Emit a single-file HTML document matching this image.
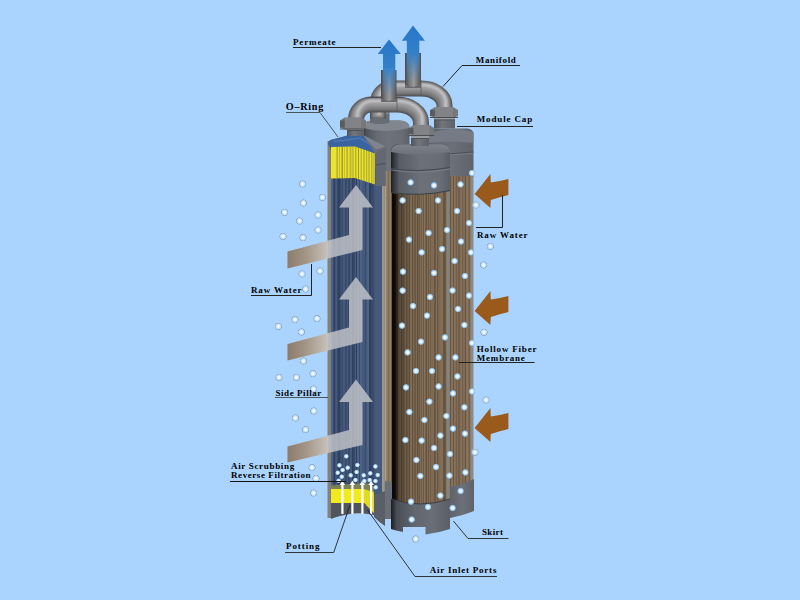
<!DOCTYPE html>
<html><head><meta charset="utf-8"><style>
html,body{margin:0;padding:0;background:#aad4fe;overflow:hidden;}
svg{display:block;}
</style></head><body><svg width="800" height="600" viewBox="0 0 800 600">
<defs>
 <linearGradient id="capg" x1="0" x2="1" y1="0" y2="0">
  <stop offset="0" stop-color="#2e3238"/><stop offset="0.08" stop-color="#4e525a"/>
  <stop offset="0.3" stop-color="#666a73"/><stop offset="0.55" stop-color="#6e727b"/>
  <stop offset="0.85" stop-color="#686c75"/><stop offset="1" stop-color="#5a5e66"/>
 </linearGradient>
 <linearGradient id="capD" x1="0" x2="1" y1="0" y2="0">
  <stop offset="0" stop-color="#1c1e22"/><stop offset="0.05" stop-color="#33363c"/>
  <stop offset="0.14" stop-color="#585c64"/><stop offset="0.5" stop-color="#6c7079"/>
  <stop offset="0.85" stop-color="#686c75"/><stop offset="1" stop-color="#5a5e66"/>
 </linearGradient>
 <linearGradient id="neckg" x1="0" x2="1" y1="0" y2="0">
  <stop offset="0" stop-color="#50545a"/><stop offset="0.4" stop-color="#72767c"/><stop offset="1" stop-color="#5e6268"/>
 </linearGradient>
 <linearGradient id="capgC" x1="0" x2="1" y1="0" y2="0">
  <stop offset="0" stop-color="#5e626b"/><stop offset="0.5" stop-color="#6c7079"/>
  <stop offset="1" stop-color="#5e626a"/>
 </linearGradient>
 <linearGradient id="captop" x1="0" x2="0" y1="0" y2="1">
  <stop offset="0" stop-color="#7e828c"/><stop offset="1" stop-color="#6c7079"/>
 </linearGradient>
 <linearGradient id="shadeD" x1="0" x2="1" y1="0" y2="0">
  <stop offset="0" stop-color="#000" stop-opacity="0.95"/><stop offset="0.06" stop-color="#000" stop-opacity="0.85"/>
  <stop offset="0.13" stop-color="#000" stop-opacity="0.35"/><stop offset="0.28" stop-color="#000" stop-opacity="0.06"/>
  <stop offset="0.6" stop-color="#000" stop-opacity="0"/><stop offset="1" stop-color="#000" stop-opacity="0.08"/>
 </linearGradient>
 <linearGradient id="skirtg" x1="0" x2="1" y1="0" y2="0">
  <stop offset="0" stop-color="#1a1c20"/><stop offset="0.1" stop-color="#4a4e56"/>
  <stop offset="0.4" stop-color="#62666f"/><stop offset="0.7" stop-color="#6a6e77"/><stop offset="1" stop-color="#5a5e66"/>
 </linearGradient>
 <linearGradient id="pipeV" x1="0" x2="1" y1="0" y2="0">
  <stop offset="0" stop-color="#4a4a4c"/><stop offset="0.3" stop-color="#7c7c7e"/>
  <stop offset="0.55" stop-color="#9a9a9c"/><stop offset="1" stop-color="#505052"/>
 </linearGradient>
 <linearGradient id="permA" x1="0" x2="0" y1="0" y2="1">
  <stop offset="0" stop-color="#2676c8"/><stop offset="0.5" stop-color="#3480c8"/>
  <stop offset="1" stop-color="#4a88c0" stop-opacity="0"/>
 </linearGradient>
 <linearGradient id="bandg" gradientUnits="userSpaceOnUse" x1="287" x2="330" y1="0" y2="0">
  <stop offset="0" stop-color="#8a7a6a"/><stop offset="0.45" stop-color="#a49686"/>
  <stop offset="1" stop-color="#cac6c2"/>
 </linearGradient>
 <radialGradient id="bub" cx="0.5" cy="0.5" r="0.5">
  <stop offset="0" stop-color="#ffffff"/><stop offset="0.28" stop-color="#f4faff"/>
  <stop offset="0.6" stop-color="#b4dafa"/><stop offset="0.82" stop-color="#88bcea" stop-opacity="0.85"/><stop offset="1" stop-color="#7ab0e0" stop-opacity="0"/>
 </radialGradient>
 <radialGradient id="bubo" cx="0.5" cy="0.5" r="0.5">
  <stop offset="0" stop-color="#ffffff"/><stop offset="0.22" stop-color="#f2f9ff"/>
  <stop offset="0.5" stop-color="#c8e4fc"/><stop offset="0.68" stop-color="#b4d6f4"/>
  <stop offset="0.84" stop-color="#8c9eb2"/><stop offset="1" stop-color="#aad4fe" stop-opacity="0.2"/>
 </radialGradient>
<filter id="pblur" x="-10%" y="-10%" width="120%" height="120%"><feGaussianBlur stdDeviation="0.9"/></filter>
</defs><rect x="0" y="0" width="800" height="600" fill="#aad4fe"/><path d="M362.5,128 Q362.5,121 372,120.5 L400,120.5 Q409.5,121 409.5,128 L409.5,171 L362.5,171 Z" fill="url(#capg)"/><path d="M362.5,128 Q362.5,120.5 372,120.5 L400,120.5 Q409.5,120.5 409.5,128 Q386,134 362.5,128 Z" fill="#82868e"/><path d="M370,112 L389.5,112 L389.5,123 Q380,125 370,123 Z" fill="#686c74"/><ellipse cx="379.7" cy="112.5" rx="9.7" ry="2.5" fill="#8c9096"/><rect x="384" y="171" width="9" height="341" fill="#7e6c56"/><rect x="384.0" y="171" width="1.0" height="341" fill="#927e64" opacity="1.0"/><rect x="385.0" y="171" width="1.0" height="341" fill="#6c5c4a" opacity="1.0"/><rect x="386.0" y="171" width="1.0" height="341" fill="#927e64" opacity="1.0"/><rect x="387.0" y="171" width="1.0" height="341" fill="#8c7860" opacity="1.0"/><rect x="389.0" y="171" width="1.0" height="341" fill="#8c7860" opacity="1.0"/><rect x="390.0" y="171" width="1.0" height="341" fill="#927e64" opacity="1.0"/><rect x="391.0" y="171" width="1.0" height="341" fill="#6c5c4a" opacity="1.0"/><rect x="392.0" y="171" width="1.0" height="341" fill="#8c7860" opacity="1.0"/><rect x="381.5" y="186" width="3" height="326" fill="#9c968c"/><rect x="385" y="171" width="1.2" height="341" fill="#a49e94"/><path d="M429,134 Q429,128.5 435,128.5 L467,128.5 Q473.5,129 473.5,134 L473.5,177 Q451,181 429,177 Z" fill="url(#capgC)"/><path d="M429,134 Q451,125 473.5,132 L473.5,143 Q451,140 429,143 Z" fill="#767a84"/><path d="M429,157 Q451,153 473.5,152" stroke="#4a4e56" stroke-width="1" fill="none"/><path d="M429,158.2 Q451,154.2 473.5,153.2" stroke="#80848c" stroke-width="0.7" fill="none"/><rect x="449" y="176" width="22" height="324" fill="#725e4a"/><rect x="449.0" y="176" width="1.0" height="324" fill="#806c56" opacity="1.0"/><rect x="450.0" y="176" width="1.0" height="324" fill="#665444" opacity="1.0"/><rect x="451.0" y="176" width="1.0" height="324" fill="#887258" opacity="1.0"/><rect x="452.0" y="176" width="1.0" height="324" fill="#887258" opacity="1.0"/><rect x="453.0" y="176" width="1.0" height="324" fill="#665444" opacity="1.0"/><rect x="454.0" y="176" width="1.0" height="324" fill="#887258" opacity="1.0"/><rect x="455.0" y="176" width="1.0" height="324" fill="#806c56" opacity="1.0"/><rect x="457.0" y="176" width="1.0" height="324" fill="#806c56" opacity="1.0"/><rect x="460.0" y="176" width="1.0" height="324" fill="#806c56" opacity="1.0"/><rect x="461.0" y="176" width="1.0" height="324" fill="#887258" opacity="1.0"/><rect x="463.0" y="176" width="1.0" height="324" fill="#806c56" opacity="1.0"/><rect x="464.0" y="176" width="1.0" height="324" fill="#806c56" opacity="1.0"/><rect x="465.0" y="176" width="1.0" height="324" fill="#665444" opacity="1.0"/><rect x="466.0" y="176" width="1.0" height="324" fill="#887258" opacity="1.0"/><rect x="467.0" y="176" width="1.0" height="324" fill="#887258" opacity="1.0"/><rect x="468.0" y="176" width="1.0" height="324" fill="#806c56" opacity="1.0"/><rect x="470.0" y="176" width="1.0" height="324" fill="#806c56" opacity="1.0"/><rect x="446.5" y="176" width="3" height="324" fill="#86827c"/><rect x="470.5" y="176" width="3" height="310" fill="#8e8a84"/><path d="M450,487 Q462,485 474,479 L474,511 Q462,516 450,518 Z" fill="url(#capgC)"/><rect x="434" y="117" width="21" height="11.5" fill="url(#neckg)"/><rect x="434" y="117" width="21" height="2.5" fill="#9a9ca0"/><rect x="434" y="119.5" width="21" height="1" fill="#505458"/><path d="M378,118 V102 A14,14 0 0 1 392,88 H421 A23.5,17 0 0 1 444.5,105 V112" stroke="#505052" stroke-width="16" fill="none" transform="translate(0,0.6)"/><g filter="url(#pblur)"><path d="M378,118 V102 A14,14 0 0 1 392,88 H421 A23.5,17 0 0 1 444.5,105 V112" stroke="#7e7e80" stroke-width="13" fill="none"/><path d="M378,118 V102 A14,14 0 0 1 392,88 H421 A23.5,17 0 0 1 444.5,105 V112" stroke="#9a9a9c" stroke-width="8" fill="none" transform="translate(0.6,-1.6)"/><path d="M378,118 V102 A14,14 0 0 1 392,88 H421 A23.5,17 0 0 1 444.5,105 V112" stroke="#d4d4d6" stroke-width="2.4" fill="none" opacity="0.85" transform="translate(1.3,-3)"/></g><rect x="405" y="53" width="16" height="35" fill="url(#pipeV)"/><path d="M405,84 Q413,90 421,84 L421,88 L405,88 Z" fill="#6a6a6c"/><path d="M430,110 L435.04,107 L452.96,107 L458,110 L458,116 L452.96,118 L435.04,118 L430,116 Z" fill="#76787c"/><rect x="435.04" y="107" width="17.92" height="11" fill="#8a8c90" opacity="0.55"/><rect x="430" y="110" width="5.04" height="6" fill="#5a5c60"/><line x1="430" y1="117.5" x2="458" y2="117.5" stroke="#4a4c50" stroke-width="1"/><rect x="331" y="150" width="45" height="355" fill="#3a4c6c"/><rect x="331.0" y="150" width="2.0" height="355" fill="#4c6286" opacity="1.0"/><rect x="334.0" y="150" width="1.0" height="355" fill="#303f5e" opacity="1.0"/><rect x="335.0" y="150" width="1.0" height="355" fill="#40547a" opacity="1.0"/><rect x="336.0" y="150" width="1.0" height="355" fill="#45597c" opacity="1.0"/><rect x="338.0" y="150" width="2.0" height="355" fill="#303f5e" opacity="1.0"/><rect x="341.0" y="150" width="1.0" height="355" fill="#40547a" opacity="1.0"/><rect x="343.0" y="150" width="2.0" height="355" fill="#45597c" opacity="1.0"/><rect x="347.0" y="150" width="1.0" height="355" fill="#45597c" opacity="1.0"/><rect x="348.0" y="150" width="2.0" height="355" fill="#38496a" opacity="1.0"/><rect x="350.0" y="150" width="2.0" height="355" fill="#45597c" opacity="1.0"/><rect x="352.0" y="150" width="1.0" height="355" fill="#303f5e" opacity="1.0"/><rect x="353.0" y="150" width="2.0" height="355" fill="#38496a" opacity="1.0"/><rect x="355.0" y="150" width="1.0" height="355" fill="#45597c" opacity="1.0"/><rect x="356.0" y="150" width="1.0" height="355" fill="#303f5e" opacity="1.0"/><rect x="357.0" y="150" width="2.0" height="355" fill="#4c6286" opacity="1.0"/><rect x="359.0" y="150" width="1.0" height="355" fill="#38496a" opacity="1.0"/><rect x="360.0" y="150" width="2.0" height="355" fill="#4c6286" opacity="1.0"/><rect x="362.0" y="150" width="2.0" height="355" fill="#45597c" opacity="1.0"/><rect x="364.0" y="150" width="1.0" height="355" fill="#45597c" opacity="1.0"/><rect x="365.0" y="150" width="1.0" height="355" fill="#38496a" opacity="1.0"/><rect x="366.0" y="150" width="1.0" height="355" fill="#45597c" opacity="1.0"/><rect x="367.0" y="150" width="2.0" height="355" fill="#4c6286" opacity="1.0"/><rect x="369.0" y="150" width="2.0" height="355" fill="#303f5e" opacity="1.0"/><rect x="371.0" y="150" width="2.0" height="355" fill="#38496a" opacity="1.0"/><rect x="374.0" y="150" width="1.0" height="355" fill="#40547a" opacity="1.0"/><rect x="375.0" y="150" width="1.0" height="355" fill="#4c6286" opacity="1.0"/><rect x="375" y="150" width="7" height="362" fill="#465a7c"/><rect x="327.5" y="141" width="3.5" height="377" fill="#82807a"/><path d="M328,144 Q328,140 332,139.5 L347,136 L363,135.5 L385.5,148.3 L385.5,186 L376,186 L376,154 L331,150 Z" fill="#5c6069"/><path d="M328.5,144 Q329,140.5 333,139.5 L347,135.5 L363,135 L378,146 L375,154 L356,147 L331,147.5 Z" fill="#3a64a0"/><path d="M334,141.5 L360,138 L372,146" stroke="#5a86c0" stroke-width="1.5" fill="none" opacity="0.6"/><path d="M331,147 L355,146.6 L375,153.6 L375,184.5 L355,178 L331,178.6 Z" fill="#ece42c"/><clipPath id="yclip"><path d="M331,147 L355,146.6 L375,153.6 L375,184.5 L355,178 L331,178.6 Z"/></clipPath><g clip-path="url(#yclip)"><rect x="336.5" y="140" width="1.2" height="50" fill="#6c6c38" opacity="0.55"/><rect x="339" y="140" width="1" height="50" fill="#6c6c38" opacity="0.35"/><rect x="341.5" y="140" width="1.5" height="50" fill="#6c6c38" opacity="0.6"/><rect x="344" y="140" width="1" height="50" fill="#6c6c38" opacity="0.3"/><rect x="346.5" y="140" width="1.2" height="50" fill="#6c6c38" opacity="0.55"/><rect x="349.5" y="140" width="2" height="50" fill="#6c6c38" opacity="0.35"/><rect x="352.5" y="140" width="1" height="50" fill="#6c6c38" opacity="0.55"/><rect x="355" y="140" width="1.5" height="50" fill="#6c6c38" opacity="0.4"/><rect x="358" y="140" width="1" height="50" fill="#6c6c38" opacity="0.6"/><rect x="360.5" y="140" width="1.5" height="50" fill="#6c6c38" opacity="0.35"/><rect x="363.5" y="140" width="1" height="50" fill="#6c6c38" opacity="0.6"/><rect x="366" y="140" width="1.2" height="50" fill="#6c6c38" opacity="0.45"/><rect x="368.5" y="140" width="1" height="50" fill="#6c6c38" opacity="0.6"/><rect x="371" y="140" width="1.5" height="50" fill="#6c6c38" opacity="0.4"/><rect x="373.5" y="140" width="1" height="50" fill="#6c6c38" opacity="0.55"/></g><path d="M363,135 L385.5,148.3 L385.5,186 L376,186 L375,153.6 Z" fill="#6a6e78"/><path d="M363,135 L385.5,146.5 L376,149.5 L368,141 Z" fill="#80848c"/><path d="M376,152 L385.5,148.3 L385.5,186 L376,186 Z" fill="#646872"/><line x1="376" y1="165" x2="385.5" y2="163.5" stroke="#4a4e56" stroke-width="1"/><rect x="347" y="128" width="17" height="8" fill="url(#neckg)"/><rect x="347" y="128" width="17" height="2" fill="#9a9ca0"/><rect x="347" y="130" width="17" height="1" fill="#505458"/><path d="M331,485.5 L365,483 L374,486.5 L374,492 L364,489 L331,489 Z" fill="#7c8258"/><path d="M331,489 L364,489 L364,503 L331,503 Z" fill="#f2ea1c"/><path d="M364,489 L374,492 L374,513 L364,503 Z" fill="#e4dc18"/><path d="M331,503 L364,503 L374,513 L374,515 Q360,512 350,514 Q338,516 331,519 Z" fill="#50545e"/><path d="M374,494.5 Q380,493 385,491 L385,526 Q380,523 374,517 Z" fill="#5a5e66"/><path d="M385,481 L392,482 L392,519 L385,519 Z" fill="#6a6e76"/><rect x="393" y="190" width="54" height="315" fill="#74604a"/><rect x="393.0" y="190" width="1.0" height="315" fill="#6c5a46" opacity="1.0"/><rect x="394.0" y="190" width="1.0" height="315" fill="#665442" opacity="1.0"/><rect x="395.0" y="190" width="1.0" height="315" fill="#6c5a46" opacity="1.0"/><rect x="396.0" y="190" width="1.0" height="315" fill="#8a7458" opacity="1.0"/><rect x="397.0" y="190" width="1.0" height="315" fill="#6c5a46" opacity="1.0"/><rect x="398.0" y="190" width="1.0" height="315" fill="#8a7458" opacity="1.0"/><rect x="399.0" y="190" width="1.0" height="315" fill="#826c54" opacity="1.0"/><rect x="400.0" y="190" width="1.0" height="315" fill="#826c54" opacity="1.0"/><rect x="401.0" y="190" width="1.0" height="315" fill="#665442" opacity="1.0"/><rect x="403.0" y="190" width="1.0" height="315" fill="#6c5a46" opacity="1.0"/><rect x="405.0" y="190" width="1.0" height="315" fill="#826c54" opacity="1.0"/><rect x="406.0" y="190" width="1.0" height="315" fill="#665442" opacity="1.0"/><rect x="407.0" y="190" width="1.0" height="315" fill="#6c5a46" opacity="1.0"/><rect x="409.0" y="190" width="1.0" height="315" fill="#665442" opacity="1.0"/><rect x="410.0" y="190" width="1.0" height="315" fill="#826c54" opacity="1.0"/><rect x="411.0" y="190" width="1.0" height="315" fill="#8a7458" opacity="1.0"/><rect x="412.0" y="190" width="1.0" height="315" fill="#665442" opacity="1.0"/><rect x="413.0" y="190" width="1.0" height="315" fill="#826c54" opacity="1.0"/><rect x="415.0" y="190" width="1.0" height="315" fill="#6c5a46" opacity="1.0"/><rect x="416.0" y="190" width="1.0" height="315" fill="#826c54" opacity="1.0"/><rect x="417.0" y="190" width="1.0" height="315" fill="#665442" opacity="1.0"/><rect x="419.0" y="190" width="1.0" height="315" fill="#6c5a46" opacity="1.0"/><rect x="420.0" y="190" width="1.0" height="315" fill="#826c54" opacity="1.0"/><rect x="422.0" y="190" width="1.0" height="315" fill="#826c54" opacity="1.0"/><rect x="423.0" y="190" width="1.0" height="315" fill="#6c5a46" opacity="1.0"/><rect x="424.0" y="190" width="1.0" height="315" fill="#8a7458" opacity="1.0"/><rect x="426.0" y="190" width="1.0" height="315" fill="#665442" opacity="1.0"/><rect x="427.0" y="190" width="1.0" height="315" fill="#826c54" opacity="1.0"/><rect x="428.0" y="190" width="1.0" height="315" fill="#6c5a46" opacity="1.0"/><rect x="429.0" y="190" width="1.0" height="315" fill="#826c54" opacity="1.0"/><rect x="431.0" y="190" width="1.0" height="315" fill="#826c54" opacity="1.0"/><rect x="432.0" y="190" width="1.0" height="315" fill="#826c54" opacity="1.0"/><rect x="433.0" y="190" width="1.0" height="315" fill="#826c54" opacity="1.0"/><rect x="434.0" y="190" width="1.0" height="315" fill="#6c5a46" opacity="1.0"/><rect x="435.0" y="190" width="1.0" height="315" fill="#6c5a46" opacity="1.0"/><rect x="436.0" y="190" width="1.0" height="315" fill="#8a7458" opacity="1.0"/><rect x="437.0" y="190" width="1.0" height="315" fill="#6c5a46" opacity="1.0"/><rect x="438.0" y="190" width="1.0" height="315" fill="#826c54" opacity="1.0"/><rect x="439.0" y="190" width="1.0" height="315" fill="#826c54" opacity="1.0"/><rect x="440.0" y="190" width="1.0" height="315" fill="#8a7458" opacity="1.0"/><rect x="441.0" y="190" width="1.0" height="315" fill="#8a7458" opacity="1.0"/><rect x="442.0" y="190" width="1.0" height="315" fill="#8a7458" opacity="1.0"/><rect x="443.0" y="190" width="1.0" height="315" fill="#6c5a46" opacity="1.0"/><rect x="444.0" y="190" width="1.0" height="315" fill="#6c5a46" opacity="1.0"/><rect x="446.0" y="190" width="1.0" height="315" fill="#8a7458" opacity="1.0"/><rect x="392" y="190" width="56" height="315" fill="url(#shadeD)"/><rect x="446.5" y="190" width="3" height="310" fill="#86827c"/><path d="M391,152 Q391,144 400,144 L441,144 Q450,144 450,152 L450,191 Q420,197 391,193 Z" fill="url(#capD)"/><path d="M391,152 Q391,144.5 400,144.5 L441,144.5 Q450,144.5 450,152 Q420,158 391,152 Z" fill="url(#captop)"/><path d="M391,168.5 Q420,173 450,167.5" stroke="#454950" stroke-width="1.2" fill="none"/><path d="M391,170 Q420,174.5 450,169" stroke="#80848c" stroke-width="0.8" fill="none"/><path d="M391,192.5 Q420,197 450,190.5" stroke="#3a3e44" stroke-width="1" fill="none"/><rect x="411" y="136" width="18" height="10" fill="url(#neckg)"/><rect x="411" y="136" width="18" height="2" fill="#9a9ca0"/><rect x="411" y="138" width="18" height="1" fill="#505458"/><path d="M391,499 Q420,509 450,499 L450,529 Q438,533 425.5,534.5 L425.5,527 L403,527 L403,532 Q397,531 391,529 Z" fill="url(#skirtg)"/><path d="M391,499 Q420,509 450,499" stroke="#3a3e44" stroke-width="1" fill="none"/><path d="M356,122 V119 A15,15 0 0 1 371,104 H397 A24,18 0 0 1 421,122 V128" stroke="#505052" stroke-width="16" fill="none" transform="translate(0,0.6)"/><g filter="url(#pblur)"><path d="M356,122 V119 A15,15 0 0 1 371,104 H397 A24,18 0 0 1 421,122 V128" stroke="#7e7e80" stroke-width="13" fill="none"/><path d="M356,122 V119 A15,15 0 0 1 371,104 H397 A24,18 0 0 1 421,122 V128" stroke="#9a9a9c" stroke-width="8" fill="none" transform="translate(0.6,-1.6)"/><path d="M356,122 V119 A15,15 0 0 1 371,104 H397 A24,18 0 0 1 421,122 V128" stroke="#d4d4d6" stroke-width="2.4" fill="none" opacity="0.85" transform="translate(1.3,-3)"/></g><rect x="381" y="70" width="15.5" height="32" fill="url(#pipeV)"/><path d="M381,98 Q389,104 396.5,98 L396.5,102 L381,102 Z" fill="#6a6a6c"/><line x1="397" y1="97" x2="397" y2="112" stroke="#5a5a5c" stroke-width="0.8"/><line x1="421" y1="80.5" x2="421" y2="96.5" stroke="#5a5a5c" stroke-width="0.8"/><path d="M340,120.5 L344.68,117.5 L361.32,117.5 L366,120.5 L366,127.5 L361.32,129.5 L344.68,129.5 L340,127.5 Z" fill="#76787c"/><rect x="344.68" y="117.5" width="16.64" height="12.0" fill="#8a8c90" opacity="0.55"/><rect x="340" y="120.5" width="4.68" height="7.0" fill="#5a5c60"/><line x1="340" y1="129.0" x2="366" y2="129.0" stroke="#4a4c50" stroke-width="1"/><path d="M409,128 L413.5,125 L429.5,125 L434,128 L434,134 L429.5,136 L413.5,136 L409,134 Z" fill="#76787c"/><rect x="413.5" y="125" width="16.0" height="11" fill="#8a8c90" opacity="0.55"/><rect x="409" y="128" width="4.5" height="6" fill="#5a5c60"/><line x1="409" y1="135.5" x2="434" y2="135.5" stroke="#4a4c50" stroke-width="1"/><path d="M389,39.5 L400.8,54 L395.3,54 L395.3,96 L383,96 L383,54 L377.8,54 Z" fill="url(#permA)"/><path d="M413,25.5 L425,40.8 L419.3,40.8 L419.3,82 L406.8,82 L406.8,40.8 L401.8,40.8 Z" fill="url(#permA)"/><path d="M356,185 L373,207.5 L362.5,207.5 L362.5,250 L287.5,268.5 L287.5,251.5 L349,235 L349,207.5 L339,207.5 Z" fill="#c6c8cc" opacity="0.8"/><clipPath id="cl1"><rect x="0" y="0" width="328" height="600"/></clipPath><path d="M356,185 L373,207.5 L362.5,207.5 L362.5,250 L287.5,268.5 L287.5,251.5 L349,235 L349,207.5 L339,207.5 Z" fill="url(#bandg)" clip-path="url(#cl1)"/><path d="M356,277 L373,299.5 L362.5,299.5 L362.5,342 L287.5,360.5 L287.5,344 L349,327.5 L349,299.5 L339,299.5 Z" fill="#c6c8cc" opacity="0.8"/><clipPath id="cl2"><rect x="0" y="0" width="328" height="600"/></clipPath><path d="M356,277 L373,299.5 L362.5,299.5 L362.5,342 L287.5,360.5 L287.5,344 L349,327.5 L349,299.5 L339,299.5 Z" fill="url(#bandg)" clip-path="url(#cl2)"/><path d="M356,379.5 L373,402 L362.5,402 L362.5,445 L287.5,462.5 L287.5,446.5 L349,430 L349,402 L339,402 Z" fill="#c6c8cc" opacity="0.8"/><clipPath id="cl3"><rect x="0" y="0" width="328" height="600"/></clipPath><path d="M356,379.5 L373,402 L362.5,402 L362.5,445 L287.5,462.5 L287.5,446.5 L349,430 L349,402 L339,402 Z" fill="url(#bandg)" clip-path="url(#cl3)"/><rect x="341.3" y="484" width="2.2" height="30" fill="#ffffff"/><path d="M339.7,485 L342.40000000000003,480.5 L345.1,485 Z" fill="#fff"/><rect x="351.3" y="484" width="2.2" height="30" fill="#ffffff"/><path d="M349.7,485 L352.40000000000003,480.5 L355.1,485 Z" fill="#fff"/><rect x="361.3" y="484" width="2.2" height="30" fill="#ffffff"/><path d="M359.7,485 L362.40000000000003,480.5 L365.1,485 Z" fill="#fff"/><rect x="370" y="484" width="2.2" height="30" fill="#ffffff"/><path d="M368.4,485 L371.1,480.5 L373.8,485 Z" fill="#fff"/><path d="M474.6,194 L490.4,174 L490.8,182.5 Q500,181 508.4,179 L508.4,195 Q500,197 490.8,200 L490.4,208 Z" fill="#9a5a1c"/><path d="M474.6,311 L490.4,291 L490.8,299.5 Q500,298 508.4,296 L508.4,312 Q500,314 490.8,317 L490.4,325 Z" fill="#9a5a1c"/><path d="M474.6,428 L490.4,408 L490.8,416.5 Q500,415 508.4,413 L508.4,429 Q500,431 490.8,434 L490.4,442 Z" fill="#9a5a1c"/><circle cx="302.6" cy="184" r="4" fill="url(#bubo)"/><circle cx="322.4" cy="197.4" r="4" fill="url(#bubo)"/><circle cx="303.4" cy="203" r="4" fill="url(#bubo)"/><circle cx="284.6" cy="212.4" r="4" fill="url(#bubo)"/><circle cx="318" cy="215" r="4" fill="url(#bubo)"/><circle cx="299.6" cy="221" r="4" fill="url(#bubo)"/><circle cx="318" cy="230" r="4" fill="url(#bubo)"/><circle cx="283" cy="236.4" r="4" fill="url(#bubo)"/><circle cx="303" cy="237.6" r="4" fill="url(#bubo)"/><circle cx="302" cy="274" r="4" fill="url(#bubo)"/><circle cx="320" cy="271" r="4" fill="url(#bubo)"/><circle cx="305.6" cy="289" r="4" fill="url(#bubo)"/><circle cx="295" cy="319.6" r="4" fill="url(#bubo)"/><circle cx="317" cy="318.6" r="4" fill="url(#bubo)"/><circle cx="278.4" cy="326.4" r="4" fill="url(#bubo)"/><circle cx="301.4" cy="332" r="4" fill="url(#bubo)"/><circle cx="303.4" cy="361" r="4" fill="url(#bubo)"/><circle cx="279" cy="377.4" r="4" fill="url(#bubo)"/><circle cx="296.4" cy="377.4" r="4" fill="url(#bubo)"/><circle cx="313" cy="373.6" r="4" fill="url(#bubo)"/><circle cx="313.6" cy="389" r="4" fill="url(#bubo)"/><circle cx="313.8" cy="411" r="4" fill="url(#bubo)"/><circle cx="295.4" cy="418" r="4" fill="url(#bubo)"/><circle cx="305.6" cy="429.6" r="4" fill="url(#bubo)"/><circle cx="312" cy="467.6" r="4" fill="url(#bubo)"/><circle cx="316" cy="478.4" r="4" fill="url(#bubo)"/><circle cx="313.6" cy="493" r="4" fill="url(#bubo)"/><circle cx="476" cy="205" r="4" fill="url(#bubo)"/><circle cx="490.4" cy="246.4" r="4" fill="url(#bubo)"/><circle cx="483.6" cy="265" r="4" fill="url(#bubo)"/><circle cx="484" cy="332.3" r="4" fill="url(#bubo)"/><circle cx="486" cy="400" r="4" fill="url(#bubo)"/><circle cx="475" cy="452.3" r="4" fill="url(#bubo)"/><circle cx="415.7" cy="539" r="4" fill="url(#bubo)"/><circle cx="410.6" cy="182.4" r="3.6" fill="url(#bub)"/><circle cx="434" cy="185.4" r="3.6" fill="url(#bub)"/><circle cx="402.6" cy="200.4" r="3.6" fill="url(#bub)"/><circle cx="438" cy="200.4" r="3.6" fill="url(#bub)"/><circle cx="418.6" cy="211" r="3.6" fill="url(#bub)"/><circle cx="428.6" cy="233" r="3.6" fill="url(#bub)"/><circle cx="409" cy="239.6" r="3.6" fill="url(#bub)"/><circle cx="421.6" cy="252.4" r="3.6" fill="url(#bub)"/><circle cx="403" cy="271.6" r="3.6" fill="url(#bub)"/><circle cx="434" cy="273" r="3.6" fill="url(#bub)"/><circle cx="402.6" cy="290.6" r="3.6" fill="url(#bub)"/><circle cx="430" cy="297" r="3.6" fill="url(#bub)"/><circle cx="413" cy="306" r="3.6" fill="url(#bub)"/><circle cx="427" cy="315.6" r="3.6" fill="url(#bub)"/><circle cx="402" cy="325.6" r="3.6" fill="url(#bub)"/><circle cx="445" cy="337.4" r="3.6" fill="url(#bub)"/><circle cx="421" cy="341.6" r="3.6" fill="url(#bub)"/><circle cx="407.6" cy="352.4" r="3.6" fill="url(#bub)"/><circle cx="438.6" cy="357.4" r="3.6" fill="url(#bub)"/><circle cx="416" cy="371" r="3.6" fill="url(#bub)"/><circle cx="432" cy="371" r="3.6" fill="url(#bub)"/><circle cx="406" cy="387.4" r="3.6" fill="url(#bub)"/><circle cx="438.6" cy="386.4" r="3.6" fill="url(#bub)"/><circle cx="429.4" cy="401.6" r="3.6" fill="url(#bub)"/><circle cx="409.4" cy="412" r="3.6" fill="url(#bub)"/><circle cx="424.4" cy="420" r="3.6" fill="url(#bub)"/><circle cx="446.4" cy="416" r="3.6" fill="url(#bub)"/><circle cx="405.4" cy="440" r="3.6" fill="url(#bub)"/><circle cx="421.6" cy="440.6" r="3.6" fill="url(#bub)"/><circle cx="440.4" cy="435.6" r="3.6" fill="url(#bub)"/><circle cx="434" cy="448" r="3.6" fill="url(#bub)"/><circle cx="416.4" cy="460" r="3.6" fill="url(#bub)"/><circle cx="436" cy="467" r="3.6" fill="url(#bub)"/><circle cx="420.4" cy="476" r="3.6" fill="url(#bub)"/><circle cx="449.4" cy="475.6" r="3.6" fill="url(#bub)"/><circle cx="440.4" cy="495.6" r="3.6" fill="url(#bub)"/><circle cx="411" cy="501.6" r="3.6" fill="url(#bub)"/><circle cx="428" cy="507" r="3.6" fill="url(#bub)"/><circle cx="411.7" cy="519.5" r="3.6" fill="url(#bub)"/><circle cx="472" cy="173" r="3.6" fill="url(#bub)"/><circle cx="460.5" cy="184.4" r="3.6" fill="url(#bub)"/><circle cx="457" cy="211" r="3.6" fill="url(#bub)"/><circle cx="469" cy="223" r="3.6" fill="url(#bub)"/><circle cx="447" cy="230" r="3.6" fill="url(#bub)"/><circle cx="461" cy="241.5" r="3.6" fill="url(#bub)"/><circle cx="442" cy="249" r="3.6" fill="url(#bub)"/><circle cx="471" cy="252.4" r="3.6" fill="url(#bub)"/><circle cx="454.6" cy="261" r="3.6" fill="url(#bub)"/><circle cx="465" cy="276" r="3.6" fill="url(#bub)"/><circle cx="452.5" cy="290.5" r="3.6" fill="url(#bub)"/><circle cx="469" cy="295.6" r="3.6" fill="url(#bub)"/><circle cx="458" cy="309" r="3.6" fill="url(#bub)"/><circle cx="464.4" cy="325" r="3.6" fill="url(#bub)"/><circle cx="472" cy="343" r="3.6" fill="url(#bub)"/><circle cx="455.4" cy="357.4" r="3.6" fill="url(#bub)"/><circle cx="457.4" cy="376.4" r="3.6" fill="url(#bub)"/><circle cx="472" cy="391.4" r="3.6" fill="url(#bub)"/><circle cx="453" cy="393.4" r="3.6" fill="url(#bub)"/><circle cx="464.4" cy="407.3" r="3.6" fill="url(#bub)"/><circle cx="453" cy="428.6" r="3.6" fill="url(#bub)"/><circle cx="465" cy="433.6" r="3.6" fill="url(#bub)"/><circle cx="450" cy="454" r="3.6" fill="url(#bub)"/><circle cx="465.4" cy="472.4" r="3.6" fill="url(#bub)"/><circle cx="460.6" cy="491" r="3.6" fill="url(#bub)"/><circle cx="452.6" cy="508" r="3.6" fill="url(#bub)"/><circle cx="346.3" cy="456.3" r="2.6" fill="url(#bub)"/><circle cx="339.4" cy="465.3" r="2.6" fill="url(#bub)"/><circle cx="357.4" cy="465" r="2.6" fill="url(#bub)"/><circle cx="347.7" cy="467.7" r="2.6" fill="url(#bub)"/><circle cx="342.6" cy="470" r="2.6" fill="url(#bub)"/><circle cx="375.4" cy="466.4" r="2.6" fill="url(#bub)"/><circle cx="337.7" cy="472.7" r="2.6" fill="url(#bub)"/><circle cx="356.6" cy="472" r="2.6" fill="url(#bub)"/><circle cx="350.7" cy="475.3" r="2.6" fill="url(#bub)"/><circle cx="363.7" cy="475.3" r="2.6" fill="url(#bub)"/><circle cx="370.3" cy="473.3" r="2.6" fill="url(#bub)"/><circle cx="377.7" cy="475" r="2.6" fill="url(#bub)"/><circle cx="341.7" cy="476.7" r="2.6" fill="url(#bub)"/><circle cx="355.4" cy="480" r="2.6" fill="url(#bub)"/><circle cx="364.3" cy="481" r="2.6" fill="url(#bub)"/><circle cx="369.7" cy="480" r="2.6" fill="url(#bub)"/><circle cx="375.4" cy="481" r="2.6" fill="url(#bub)"/><circle cx="338.6" cy="480.7" r="2.6" fill="url(#bub)"/><circle cx="375.7" cy="487.3" r="2.6" fill="url(#bub)"/><text x="293" y="44.8" font-family="Liberation Serif" font-weight="bold" font-size="9.0" fill="#000" textLength="42.5" lengthAdjust="spacing">Permeate</text><polyline points="293,47.5 381,47.5" stroke="#222" stroke-width="1" fill="none"/><text x="475.8" y="62.5" font-family="Liberation Serif" font-weight="bold" font-size="9.0" fill="#000" textLength="40" lengthAdjust="spacing">Manifold</text><polyline points="443,86.5 462,65.5 520,65.5" stroke="#222" stroke-width="1" fill="none"/><text x="285.8" y="109.7" font-family="Liberation Serif" font-weight="bold" font-size="10.2" fill="#000" textLength="37.5" lengthAdjust="spacing">O–Ring</text><polyline points="286,112.5 320,112.5 338,137" stroke="#333" stroke-width="0.8" fill="none"/><text x="476.7" y="121.7" font-family="Liberation Serif" font-weight="bold" font-size="9.0" fill="#000" textLength="55.5" lengthAdjust="spacing">Module Cap</text><polyline points="457,126.5 533,126.5" stroke="#222" stroke-width="1" fill="none"/><text x="477" y="237.8" font-family="Liberation Serif" font-weight="bold" font-size="9.0" fill="#000" textLength="50.5" lengthAdjust="spacing">Raw Water</text><polyline points="502.5,195 502.5,227.5 476,227.5" stroke="#222" stroke-width="1" fill="none"/><text x="251" y="293" font-family="Liberation Serif" font-weight="bold" font-size="9.0" fill="#000" textLength="50.5" lengthAdjust="spacing">Raw Water</text><polyline points="311.5,264 311.5,295.5 251,295.5" stroke="#222" stroke-width="1" fill="none"/><text x="476.8" y="351.9" font-family="Liberation Serif" font-weight="bold" font-size="9.0" fill="#000" textLength="59.7" lengthAdjust="spacing">Hollow Fiber</text><text x="476.8" y="360.8" font-family="Liberation Serif" font-weight="bold" font-size="9.0" fill="#000" textLength="48" lengthAdjust="spacing">Membrane</text><polyline points="459,362.5 534.5,362.5" stroke="#222" stroke-width="1" fill="none"/><text x="275.5" y="395.5" font-family="Liberation Serif" font-weight="bold" font-size="9.0" fill="#000" textLength="45.8" lengthAdjust="spacing">Side Pillar</text><polyline points="275,397.5 328,397.5" stroke="#333" stroke-width="0.8" fill="none"/><text x="231" y="468.9" font-family="Liberation Serif" font-weight="bold" font-size="9.0" fill="#000" textLength="63.2" lengthAdjust="spacing">Air Scrubbing</text><text x="231" y="478.4" font-family="Liberation Serif" font-weight="bold" font-size="9.0" fill="#000" textLength="79.5" lengthAdjust="spacing">Reverse Filtration</text><polyline points="230,481.5 346,481.5" stroke="#111" stroke-width="1" fill="none"/><text x="286" y="549" font-family="Liberation Serif" font-weight="bold" font-size="9.0" fill="#000" textLength="33.5" lengthAdjust="spacing">Potting</text><polyline points="285,552.5 333.7,552.5 350,505" stroke="#222" stroke-width="0.9" fill="none"/><text x="481.9" y="534.7" font-family="Liberation Serif" font-weight="bold" font-size="9.0" fill="#000" textLength="21" lengthAdjust="spacing">Skirt</text><polyline points="453.4,521 468,538.5 508.5,538.5" stroke="#222" stroke-width="0.9" fill="none"/><text x="429.8" y="572.6" font-family="Liberation Serif" font-weight="bold" font-size="9.0" fill="#000" textLength="66.6" lengthAdjust="spacing">Air Inlet Ports</text><polyline points="367.5,510 415,576.5 497,576.5" stroke="#222" stroke-width="0.9" fill="none"/></svg></body></html>
